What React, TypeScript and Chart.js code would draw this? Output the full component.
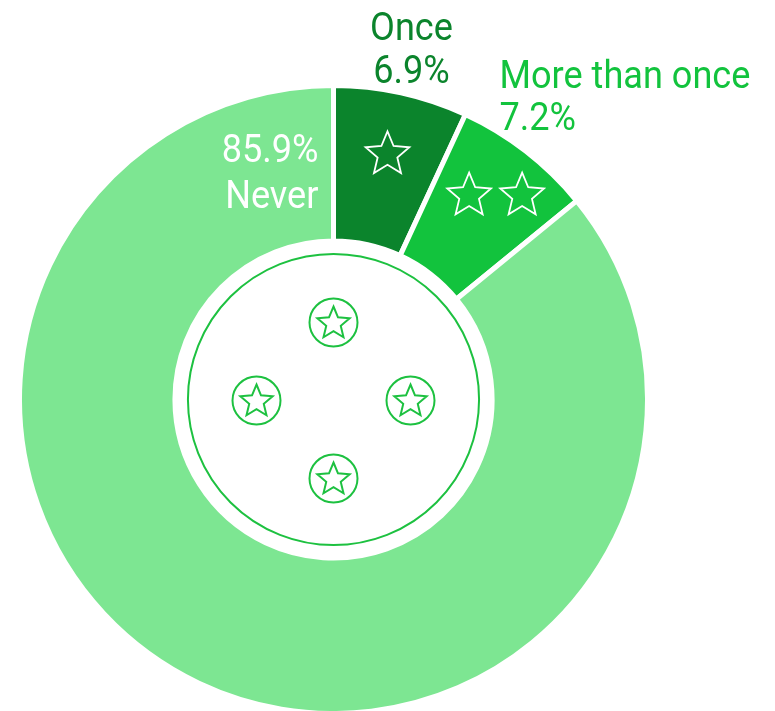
import React, { useEffect, useRef } from "react";
import { Chart, registerables } from "chart.js";

Chart.register(...registerables);

const categories = ["Once", "More than once", "Never"];
const values = [6.9, 7.2, 85.9];
const sliceColors = ["#0b842c", "#12c33d", "#7de692"];
const labelColors = ["#0b842c", "#12c33d", "#ffffff"];
const starCounts = [1, 2, 0];

function starPath(ctx: CanvasRenderingContext2D, cx: number, cy: number, r: number, ratio = 0.45) {
  ctx.beginPath();
  for (let i = 0; i < 10; i++) {
    const rr = i % 2 === 0 ? r : r * ratio;
    const a = -Math.PI / 2 + (i * Math.PI) / 5;
    const x = cx + rr * Math.cos(a);
    const y = cy + rr * Math.sin(a);
    if (i === 0) ctx.moveTo(x, y);
    else ctx.lineTo(x, y);
  }
  ctx.closePath();
}

const SX = 0.95;
function text(ctx: CanvasRenderingContext2D, s: string, x: number, y: number) {
  ctx.save();
  ctx.translate(x, y);
  ctx.scale(SX, 1);
  ctx.fillText(s, 0, 0);
  ctx.restore();
}

const decorPlugin = {
  id: "decor",
  afterDatasetsDraw(chart: any) {
    const ctx: CanvasRenderingContext2D = chart.ctx;
    const meta = chart.getDatasetMeta(0);
    const arcs = meta.data;
    if (!arcs.length) return;
    const cx = arcs[0].x;
    const cy = arcs[0].y;
    const inner = arcs[0].innerRadius;

    ctx.save();
    ctx.strokeStyle = "#1dc140";
    ctx.lineWidth = 2;
    ctx.beginPath();
    ctx.arc(cx, cy, inner - 13, 0, Math.PI * 2);
    ctx.stroke();
    const offs = [
      [0, -77],
      [-77, 1],
      [77, 1],
      [0, 79],
    ];
    for (const [dx, dy] of offs) {
      ctx.beginPath();
      ctx.arc(cx + dx, cy + dy, 24, 0, Math.PI * 2);
      ctx.stroke();
      starPath(ctx, cx + dx, cy + dy + 1, 17);
      ctx.stroke();
    }

    ctx.strokeStyle = "#ffffff";
    ctx.lineWidth = 1.8;
    arcs.forEach((arc: any, i: number) => {
      const n = starCounts[i];
      if (!n) return;
      const mid = (arc.startAngle + arc.endAngle) / 2;
      const r = i === 0 ? 251 : 258;
      const px = cx + r * Math.cos(mid) + (i === 0 ? 0 : 4);
      const py = cy + r * Math.sin(mid);
      for (let k = 0; k < n; k++) {
        const sx = px + (k - (n - 1) / 2) * 53;
        starPath(ctx, sx, py, 23);
        ctx.stroke();
      }
    });

    ctx.font = "38px Roboto";
    ctx.textBaseline = "alphabetic";
    ctx.fillStyle = labelColors[0];
    ctx.textAlign = "center";
    text(ctx, categories[0], cx + 78, 40);
    text(ctx, values[0].toFixed(1) + "%", cx + 78, 83);
    ctx.fillStyle = labelColors[1];
    ctx.textAlign = "left";
    text(ctx, categories[1], cx + 166, 88);
    text(ctx, values[1].toFixed(1) + "%", cx + 166, 130);
    ctx.fillStyle = labelColors[2];
    ctx.textAlign = "right";
    text(ctx, values[2].toFixed(1) + "%", cx - 15, 162);
    text(ctx, categories[2], cx - 15, 208);
    ctx.restore();
  },
};

export default function App() {
  const ref = useRef<HTMLCanvasElement | null>(null);
  useEffect(() => {
    document.body.style.margin = "0";
    const canvas = ref.current;
    if (!canvas) return;
    const chart = new Chart(canvas, {
      type: "doughnut",
      data: {
        labels: categories,
        datasets: [
          {
            data: values,
            backgroundColor: sliceColors,
            borderColor: "#ffffff",
            borderWidth: 5,
            clip: false as any,
          },
        ],
      },
      options: {
        responsive: false,
        animation: false,
        radius: 314,
        cutout: "50.5%",
        layout: { padding: { left: 22, top: 88, right: 130, bottom: 0 } },
        plugins: { legend: { display: false }, tooltip: { enabled: false } },
      },
      plugins: [decorPlugin],
    });
    return () => chart.destroy();
  }, []);
  return (
    <div style={{ width: 775, height: 711 }}>
      <canvas ref={ref} width={775} height={711} />
    </div>
  );
}
